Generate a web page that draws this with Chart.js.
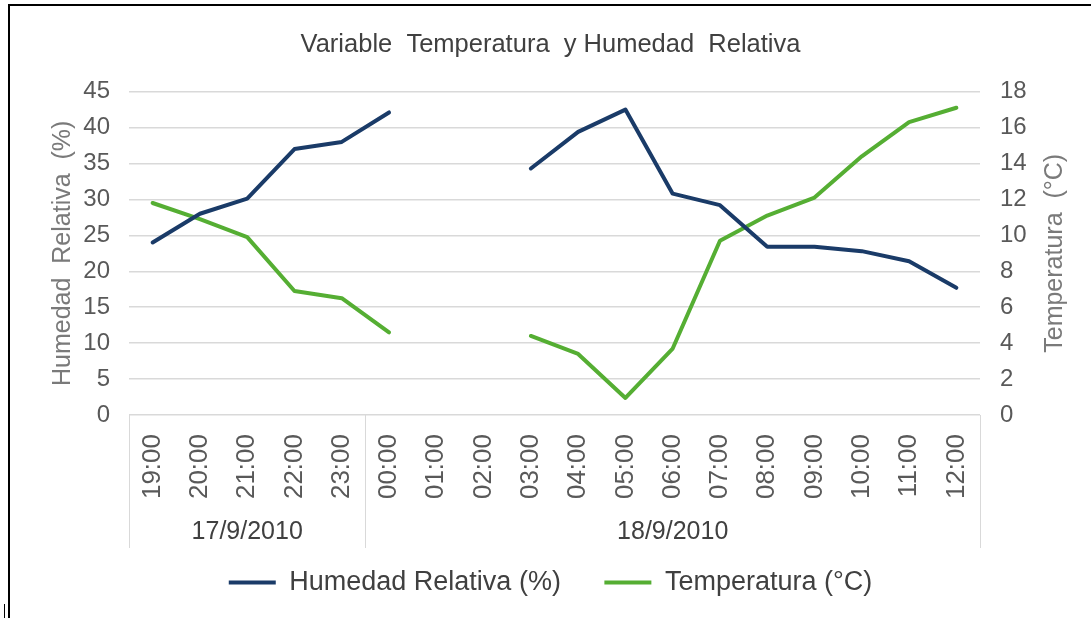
<!DOCTYPE html>
<html>
<head>
<meta charset="utf-8">
<script src="https://cdn.jsdelivr.net/npm/chart.js@4/dist/chart.umd.min.js"></script>
<style>
html,body{margin:0;padding:0;background:#fff;}
#wrap{width:1091px;height:618px;position:relative;}
</style>
</head>
<body>
<div id="wrap"><canvas id="c" width="1091" height="618"></canvas></div>
<script>
const hours = ['19:00','20:00','21:00','22:00','23:00','00:00','01:00','02:00','03:00','04:00','05:00','06:00','07:00','08:00','09:00','10:00','11:00','12:00'];
const dateLabels = ['17/9/2010','18/9/2010'];
const dateCounts = [5, 13];
const humedad = [24.0, 28.0, 30.1, 37.0, 38.0, 42.1, null, null, 34.3, 39.4, 42.5, 30.8, 29.2, 23.4, 23.4, 22.8, 21.4, 17.7];
const temperatura = [11.8, 10.9, 9.9, 6.9, 6.5, 4.6, null, null, 4.4, 3.4, 0.95, 3.7, 9.7, 11.1, 12.1, 14.4, 16.3, 17.1];
const leftTicks = {min: 0, max: 45, step: 5};
const rightTicks = {min: 0, max: 18, step: 2};
const rightTitle = 'Temperatura  (°C)';

const FONT = "'Liberation Sans', Arial, sans-serif";
const BLUE = '#1a3b68';
const GREEN = '#55ae33';
const XAXIS_H = 133;

const groupPlugin = {
  id: 'groups',
  afterDraw(chart) {
    const ctx = chart.ctx;
    const {left, right, top, bottom} = chart.chartArea;
    const x = chart.scales.x;
    const step = x.getPixelForValue(1) - x.getPixelForValue(0);
    ctx.save();
    ctx.strokeStyle = '#d9d9d9';
    ctx.lineWidth = 1;
    let idx = 0;
    const edges = [left];
    dateCounts.forEach(c => { idx += c; edges.push(x.getPixelForValue(idx - 1) + step / 2); });
    edges.forEach(e => {
      const px = Math.round(e) + 0.5;
      ctx.beginPath(); ctx.moveTo(px, bottom); ctx.lineTo(px, bottom + XAXIS_H); ctx.stroke();
    });
    ctx.fillStyle = '#404040';
    ctx.font = '25px ' + FONT;
    ctx.textAlign = 'center';
    ctx.textBaseline = 'middle';
    dateLabels.forEach((d, i) => {
      ctx.fillText(d, (edges[i] + edges[i + 1]) / 2, bottom + 117);
    });
    // right axis title, reading bottom to top
    ctx.save();
    ctx.translate(1055, (top + bottom) / 2);
    ctx.rotate(-Math.PI / 2);
    ctx.fillStyle = '#7a7a7a';
    ctx.font = '25px ' + FONT;
    ctx.fillText(rightTitle, 0, 0);
    ctx.restore();
    // outer frame
    ctx.fillStyle = '#000';
    ctx.fillRect(8, 4, 2, 614);
    ctx.fillRect(8, 4, 1083, 2);
    ctx.fillRect(4, 604, 1, 14);
    ctx.restore();
  }
};

new Chart(document.getElementById('c'), {
  type: 'line',
  data: {
    labels: hours,
    datasets: [
      {label: 'Humedad Relativa (%)', data: humedad, yAxisID: 'y', borderColor: BLUE, backgroundColor: BLUE,
       borderWidth: 4, pointRadius: 0, tension: 0, spanGaps: false, borderCapStyle: 'round', borderJoinStyle: 'round'},
      {label: 'Temperatura (°C)', data: temperatura, yAxisID: 'y1', borderColor: GREEN, backgroundColor: GREEN,
       borderWidth: 4, pointRadius: 0, tension: 0, spanGaps: false, borderCapStyle: 'round', borderJoinStyle: 'round'}
    ]
  },
  options: {
    responsive: false,
    animation: false,
    events: [],
    layout: {padding: {left: 10, top: 6, right: 0, bottom: 12}},
    plugins: {
      tooltip: {enabled: false},
      title: {
        display: true,
        text: 'Variable  Temperatura  y Humedad  Relativa',
        color: '#404040',
        font: {family: FONT, size: 25.5, weight: 'normal'},
        padding: {top: 24, bottom: 31}
      },
      legend: {
        position: 'bottom',
        labels: {
          color: '#404040',
          font: {family: FONT, size: 27},
          boxWidth: 47,
          boxHeight: 4,
          padding: 21,
          generateLabels(chart) {
            const items = Chart.defaults.plugins.legend.labels.generateLabels(chart);
            items.forEach((it, i) => {
              it.lineWidth = 0;
              it.strokeStyle = 'rgba(0,0,0,0)';
              if (i === 0) it.text = it.text + '   ';
            });
            return items;
          }
        }
      }
    },
    scales: {
      x: {
        type: 'category',
        offset: true,
        grid: {display: false, drawTicks: false},
        border: {display: false},
        ticks: {
          color: '#595959',
          font: {family: FONT, size: 26},
          minRotation: 90, maxRotation: 90,
          autoSkip: false,
          padding: 19
        },
        afterFit(scale) { scale.height = XAXIS_H; }
      },
      y: {
        position: 'left',
        min: leftTicks.min, max: leftTicks.max,
        grid: {color: '#d9d9d9', lineWidth: 1.5, drawTicks: false},
        border: {display: false},
        ticks: {stepSize: leftTicks.step, color: '#595959', font: {family: FONT, size: 24}, padding: 19},
        title: {display: true, text: 'Humedad  Relativa  (%)', color: '#7a7a7a',
                font: {family: FONT, size: 25}, padding: {top: 38, bottom: 0}},
        afterFit(scale) { scale.width = 119; }
      },
      y1: {
        position: 'right',
        min: rightTicks.min, max: rightTicks.max,
        grid: {display: false, drawTicks: false},
        border: {display: false},
        ticks: {stepSize: rightTicks.step, color: '#595959', font: {family: FONT, size: 24}, padding: 20},
        title: {display: false},
        afterFit(scale) { scale.width = 111; }
      }
    }
  },
  plugins: [groupPlugin]
});
</script>
</body>
</html>
